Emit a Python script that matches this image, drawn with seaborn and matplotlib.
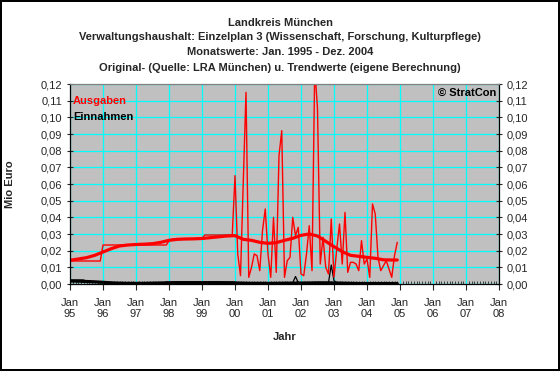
import numpy as np
import pandas as pd
import matplotlib
matplotlib.use("Agg")
import matplotlib.pyplot as plt
import seaborn as sns
from matplotlib.ticker import FuncFormatter, MultipleLocator

# ---------------------------------------------------------------------------
# Daten: Monatswerte Jan. 1995 - Dez. 2004 (Mio Euro)
# ---------------------------------------------------------------------------
years = [1995, 1996, 1997, 1998, 1999, 2000, 2001, 2002, 2003, 2004]

ausgaben_1995 = [0.0138, 0.0138, 0.0138, 0.0138, 0.0138, 0.0138, 0.0138, 0.0138, 0.0138, 0.0138, 0.0138, 0.0138]
ausgaben_1996 = [0.0234, 0.0234, 0.0234, 0.0234, 0.0234, 0.0234, 0.0234, 0.0234, 0.0234, 0.0234, 0.0234, 0.0234]
ausgaben_1997 = [0.0234, 0.0234, 0.0234, 0.0234, 0.0234, 0.0234, 0.0234, 0.0234, 0.0234, 0.0234, 0.0234, 0.0234]
ausgaben_1998 = [0.0258, 0.0268, 0.0268, 0.0268, 0.0268, 0.0268, 0.0268, 0.0268, 0.0268, 0.0268, 0.0268, 0.0268]
ausgaben_1999 = [0.0272, 0.0294, 0.0294, 0.0294, 0.0294, 0.0294, 0.0294, 0.0294, 0.0294, 0.0294, 0.0294, 0.0294]
ausgaben_2000 = [0.065, 0.018, 0.005, 0.061, 0.115, 0.004, 0.010, 0.018, 0.017, 0.008, 0.032, 0.045]
ausgaben_2001 = [0.018, 0.004, 0.040, 0.007, 0.077, 0.092, 0.004, 0.014, 0.016, 0.040, 0.029, 0.034]
ausgaben_2002 = [0.006, 0.005, 0.018, 0.035, 0.008, 0.130, 0.105, 0.012, 0.028, 0.010, 0.006, 0.039]
ausgaben_2003 = [0.004, 0.021, 0.036, 0.012, 0.043, 0.007, 0.013, 0.013, 0.012, 0.008, 0.026, 0.012]
ausgaben_2004 = [0.015, 0.004, 0.048, 0.042, 0.016, 0.008, 0.011, 0.014, 0.009, 0.004, 0.017, 0.025]

einnahmen_1995 = [0.0024, 0.0024, 0.0024, 0.0024, 0.0024, 0.0024, 0.0012, 0.0012, 0.0012, 0.0012, 0.0012, 0.0012]
einnahmen_1996 = [0.0012, 0.0012, 0.0, 0.0, 0.0, 0.0, 0.0, 0.0, 0.0, 0.0, 0.0, 0.0]
einnahmen_1997 = [0.0, 0.0, 0.0, 0.0, 0.0, 0.0, 0.0, 0.0, 0.0, 0.0, 0.0, 0.0012]
einnahmen_1998 = [0.0012, 0.0012, 0.0012, 0.0012, 0.0012, 0.0012, 0.0012, 0.0012, 0.0012, 0.0012, 0.0012, 0.0012]
einnahmen_1999 = [0.0012, 0.0012, 0.0012, 0.0012, 0.0012, 0.0012, 0.0012, 0.0012, 0.0012, 0.0012, 0.0012, 0.0012]
einnahmen_2000 = [0.0012, 0.0008, 0.0, 0.0, 0.0, 0.0, 0.0, 0.0, 0.0, 0.0, 0.0, 0.0]
einnahmen_2001 = [0.0, 0.0, 0.0, 0.0, 0.0, 0.0008, 0.0008, 0.0008, 0.0008, 0.0008, 0.0045, 0.0008]
einnahmen_2002 = [0.0008, 0.0008, 0.0008, 0.0008, 0.0008, 0.0008, 0.0008, 0.0008, 0.0008, 0.0008, 0.0008, 0.0114]
einnahmen_2003 = [0.0020, 0.0008, 0.0008, 0.0008, 0.0008, 0.0008, 0.0, 0.0, 0.0, 0.0, 0.0, 0.0]
einnahmen_2004 = [0.0010, 0.0, 0.0, 0.0, 0.0, 0.0, 0.0, 0.0, 0.0, 0.0, 0.0, 0.0]

trend_ausgaben = [
    0.0142, 0.0150, 0.0158, 0.0172,   # 1995
    0.0192, 0.0212, 0.0228, 0.0234,   # 1996
    0.0237, 0.0239, 0.0242, 0.0250,   # 1997
    0.0262, 0.0268, 0.0270, 0.0271,   # 1998
    0.0273, 0.0278, 0.0283, 0.0288,   # 1999
    0.0290, 0.0268, 0.0262, 0.0250,   # 2000
    0.0244, 0.0248, 0.0262, 0.0274,   # 2001
    0.0292, 0.0300, 0.0288, 0.0256,   # 2002
    0.0224, 0.0194, 0.0172, 0.0166,   # 2003
    0.0160, 0.0154, 0.0145, 0.0144,   # 2004
    0.0144,
]
trend_einnahmen = [
    0.0018, 0.0017, 0.0015, 0.0013,
    0.0010, 0.0007, 0.0005, 0.0004,
    0.0004, 0.0004, 0.0005, 0.0006,
    0.0007, 0.0008, 0.0008, 0.0008,
    0.0008, 0.0008, 0.0008, 0.0007,
    0.0006, 0.0005, 0.0004, 0.0004,
    0.0004, 0.0004, 0.0005, 0.0005,
    0.0006, 0.0006, 0.0007, 0.0007,
    0.0006, 0.0005, 0.0004, 0.0003,
    0.0003, 0.0003, 0.0003, 0.0003,
    0.0003,
]

title_lines = [
    "Landkreis München",
    "Verwaltungshaushalt: Einzelplan 3 (Wissenschaft, Forschung, Kulturpflege)",
    "Monatswerte: Jan. 1995 - Dez. 2004",
    "Original- (Quelle: LRA München) u. Trendwerte (eigene Berechnung)",
]
tick_years = list(range(1995, 2009))
tick_labels = [f"Jan\n{y % 100:02d}" for y in tick_years]

# ---------------------------------------------------------------------------
# DataFrames
# ---------------------------------------------------------------------------
ausgaben = (ausgaben_1995 + ausgaben_1996 + ausgaben_1997 + ausgaben_1998 + ausgaben_1999
            + ausgaben_2000 + ausgaben_2001 + ausgaben_2002 + ausgaben_2003 + ausgaben_2004)
einnahmen = (einnahmen_1995 + einnahmen_1996 + einnahmen_1997 + einnahmen_1998 + einnahmen_1999
             + einnahmen_2000 + einnahmen_2001 + einnahmen_2002 + einnahmen_2003 + einnahmen_2004)

month_pos = years[0] + np.arange(len(ausgaben)) / 12
df_orig = pd.DataFrame({"jahr": month_pos, "ausgaben": ausgaben, "einnahmen": einnahmen})

trend_pos = list(years[0] + np.arange(len(trend_ausgaben) - 1) / 4) + [month_pos[-1]]
df_trend = pd.DataFrame({"jahr": trend_pos, "ausgaben": trend_ausgaben, "einnahmen": trend_einnahmen})

# ---------------------------------------------------------------------------
# Plot
# ---------------------------------------------------------------------------
sns.set_style("ticks")
plt.rcParams["font.family"] = ["Liberation Sans", "DejaVu Sans"]

W, H = 560, 371
fig = plt.figure(figsize=(W / 100, H / 100), dpi=100, facecolor="white",
                 edgecolor="black", linewidth=1.5)
ax = fig.add_axes([70 / W, 1 - 284 / H, 429 / W, 200 / H])
ax.set_facecolor("#C0C0C0")

# einnahmen first, ausgaben on top
sns.lineplot(data=df_orig, x="jahr", y="einnahmen", color="black", linewidth=0.9, ax=ax)
sns.lineplot(data=df_trend, x="jahr", y="einnahmen", color="black", linewidth=2.3, ax=ax)
sns.lineplot(data=df_orig, x="jahr", y="ausgaben", color="#FF0000", linewidth=1.0, ax=ax)
sns.lineplot(data=df_trend, x="jahr", y="ausgaben", color="#FF0000", linewidth=2.3, ax=ax)

ax.set_xlim(1995, 2008)
ax.set_ylim(0, 0.12)

# grid
ax.set_axisbelow(True)
ax.yaxis.set_major_locator(MultipleLocator(0.01))
ax.set_xticks(tick_years)
ax.set_xticklabels(tick_labels, fontsize=8)
ax.xaxis.set_minor_locator(MultipleLocator(1 / 12))
ax.grid(True, which="major", color="#00FFFF", linewidth=0.9)
ax.yaxis.set_major_formatter(FuncFormatter(lambda v, _: f"{v:.2f}".replace(".", ",")))

ax.tick_params(axis="y", which="major", direction="inout", length=5, width=0.8,
               labelsize=8, left=True, right=True, labelleft=True, labelright=True, pad=3)
ax.tick_params(axis="x", which="major", direction="out", length=4, width=0.8, pad=6)
ax.tick_params(axis="x", which="minor", direction="in", length=2, width=0.6)

for side in ["left", "right", "top", "bottom"]:
    ax.spines[side].set_color("black")
    ax.spines[side].set_linewidth(0.9)
ax.spines["top"].set_color("#808080")

ax.set_xlabel("")
ax.set_ylabel("")

# titles
for i, line in enumerate(title_lines):
    fig.text(280 / W, 1 - [23, 37, 52, 68][i] / H, line, ha="center", va="center",
             fontsize=8, fontweight="bold")

fig.text(285 / W, 1 - 337 / H, "Jahr", ha="center", va="center", fontsize=8, fontweight="bold")
fig.text(10 / W, 1 - 184 / H, "Mio Euro", ha="center", va="center", rotation=90,
         fontsize=8, fontweight="bold")

# legend-like labels inside the plot
fig.text(73 / W, 1 - 101 / H, "Ausgaben", ha="left", va="center", fontsize=8,
         fontweight="bold", color="#FF0000")
fig.text(73 / W, 1 - 117 / H, "Einnahmen", ha="left", va="center", fontsize=8,
         fontweight="bold", color="black")
fig.text(496 / W, 1 - 93 / H, "© StratCon", ha="right", va="center", fontsize=8,
         fontweight="bold", color="black")

fig.savefig("out.png", dpi=100, facecolor=fig.get_facecolor(), edgecolor=fig.get_edgecolor())
